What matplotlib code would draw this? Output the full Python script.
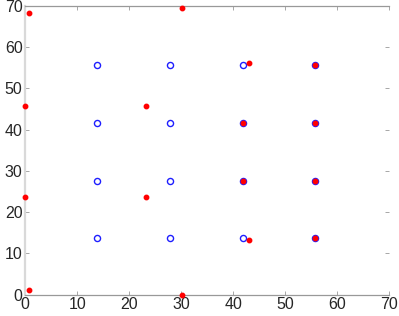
import matplotlib
matplotlib.use("Agg")
import matplotlib.pyplot as plt

plt.rcParams["font.family"] = ["Liberation Sans", "DejaVu Sans"]

# grid of blue open circles
grid_x = [13.75, 27.75, 41.8, 55.75]
grid_y = [13.7, 27.65, 41.65, 55.6]

# red points
red_x = [0.8, 30.1, 0.0, 23.2, 43.0, 55.8, 41.9, 55.8,
         0.0, 23.2, 0.8, 30.1, 41.9, 55.8, 43.0, 55.8]
red_y = [68.3, 69.4, 45.8, 45.8, 56.3, 55.6, 41.6, 41.6,
         23.7, 23.7, 1.1, 0.0, 27.6, 27.6, 13.2, 13.7]

gx = [x for y in grid_y for x in grid_x]
gy = [y for y in grid_y for x in grid_x]

fig = plt.figure(figsize=(3.99, 3.16), dpi=100)
ax = fig.add_axes([0.0634, 0.0674, 0.9123, 0.9136])

ax.plot(gx, gy, "o", mfc="none", mec="#1f1fff", ms=4.4, mew=1.0, ls="none")
ax.plot(red_x, red_y, "o", color="#ff0000", mec="#ff0000", ms=3.2, ls="none",
        clip_on=False, zorder=5)

ax.set_xlim(0, 70)
ax.set_ylim(0, 70)
ax.set_xticks(range(0, 71, 10))
ax.set_yticks(range(0, 71, 10))
ax.tick_params(direction="in", length=3, width=0.6, colors="#999999",
               labelcolor="#262626", labelsize=11.5, top=True, right=True, pad=2)
for side in ["top", "bottom"]:
    ax.spines[side].set_color("#999999")
    ax.spines[side].set_linewidth(0.9)
ax.spines["right"].set_visible(False)
ax.spines["left"].set_color("#d9d9d9")
ax.spines["left"].set_linewidth(1.6)

fig.savefig("out.png", dpi=100, facecolor="white")
